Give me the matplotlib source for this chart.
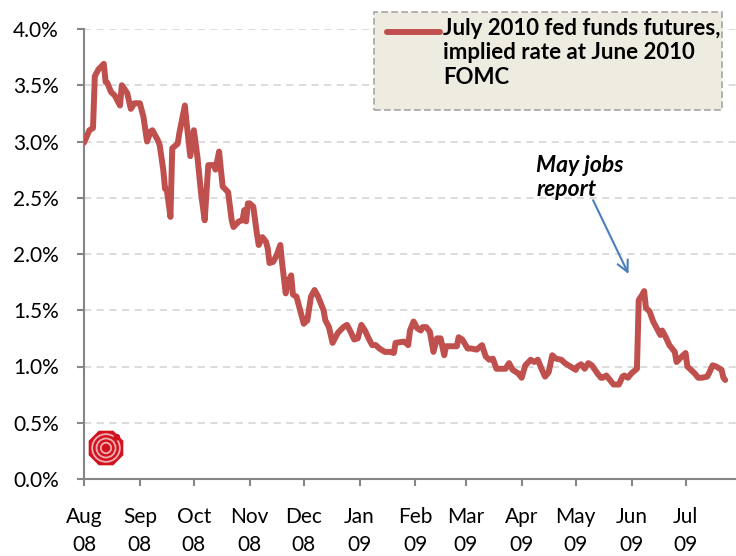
import matplotlib
matplotlib.use('Agg')
import matplotlib.pyplot as plt
import matplotlib.dates as mdates
import matplotlib.ticker as ticker
from matplotlib.patches import FancyBboxPatch, RegularPolygon, Circle
from matplotlib.lines import Line2D
import pandas as pd

# July 2010 fed funds futures, implied rate at June 2010 FOMC
dates = [
    '2008-08-01', '2008-08-04', '2008-08-06', '2008-08-07', '2008-08-09', '2008-08-12',
    '2008-08-13', '2008-08-14', '2008-08-16', '2008-08-18', '2008-08-21', '2008-08-22',
    '2008-08-25', '2008-08-27', '2008-08-29', '2008-09-01', '2008-09-03', '2008-09-05',
    '2008-09-07', '2008-09-08', '2008-09-11', '2008-09-12', '2008-09-14', '2008-09-15',
    '2008-09-16', '2008-09-18', '2008-09-19', '2008-09-22', '2008-09-23', '2008-09-26',
    '2008-09-27', '2008-09-29', '2008-10-01', '2008-10-03', '2008-10-05', '2008-10-07',
    '2008-10-09', '2008-10-12', '2008-10-13', '2008-10-15', '2008-10-16', '2008-10-17',
    '2008-10-20', '2008-10-22', '2008-10-23', '2008-10-26', '2008-10-28', '2008-10-29',
    '2008-10-30', '2008-10-31', '2008-11-01', '2008-11-03', '2008-11-05', '2008-11-06',
    '2008-11-08', '2008-11-10', '2008-11-11', '2008-11-12', '2008-11-14', '2008-11-16',
    '2008-11-18', '2008-11-19', '2008-11-21', '2008-11-22', '2008-11-24', '2008-11-25',
    '2008-11-27', '2008-11-29', '2008-12-01', '2008-12-03', '2008-12-05', '2008-12-07',
    '2008-12-09', '2008-12-12', '2008-12-13', '2008-12-15', '2008-12-17', '2008-12-18',
    '2008-12-20', '2008-12-23', '2008-12-25', '2008-12-27', '2008-12-29', '2008-12-31',
    '2009-01-02', '2009-01-04', '2009-01-06', '2009-01-08', '2009-01-10', '2009-01-12',
    '2009-01-15', '2009-01-18', '2009-01-20', '2009-01-21', '2009-01-25', '2009-01-26',
    '2009-01-28', '2009-01-29', '2009-01-31', '2009-02-02', '2009-02-04', '2009-02-05',
    '2009-02-07', '2009-02-09', '2009-02-11', '2009-02-13', '2009-02-15', '2009-02-17',
    '2009-02-18', '2009-02-21', '2009-02-24', '2009-02-25', '2009-02-27', '2009-03-02',
    '2009-03-04', '2009-03-07', '2009-03-10', '2009-03-12', '2009-03-14', '2009-03-16',
    '2009-03-18', '2009-03-21', '2009-03-23', '2009-03-25', '2009-03-27', '2009-03-30',
    '2009-04-01', '2009-04-03', '2009-04-06', '2009-04-08', '2009-04-10', '2009-04-12',
    '2009-04-14', '2009-04-16', '2009-04-18', '2009-04-20', '2009-04-23', '2009-04-25',
    '2009-04-28', '2009-05-01', '2009-05-02', '2009-05-04', '2009-05-06', '2009-05-08',
    '2009-05-10', '2009-05-13', '2009-05-15', '2009-05-16', '2009-05-18', '2009-05-20',
    '2009-05-22', '2009-05-25', '2009-05-27', '2009-05-28', '2009-05-30', '2009-06-01',
    '2009-06-04', '2009-06-05', '2009-06-07', '2009-06-08', '2009-06-09', '2009-06-11',
    '2009-06-13', '2009-06-15', '2009-06-17', '2009-06-18', '2009-06-20', '2009-06-22',
    '2009-06-25', '2009-06-26', '2009-06-29', '2009-07-01', '2009-07-02', '2009-07-04',
    '2009-07-06', '2009-07-08', '2009-07-10', '2009-07-13', '2009-07-14', '2009-07-16',
    '2009-07-18', '2009-07-21', '2009-07-22', '2009-07-23',
]
rates = [
    2.99, 3.10, 3.12, 3.58, 3.64, 3.69,
    3.53, 3.52, 3.44, 3.41, 3.32, 3.50,
    3.43, 3.29, 3.34, 3.34, 3.22, 3.00,
    3.09, 3.10, 3.01, 2.97, 2.75, 2.58,
    2.57, 2.33, 2.94, 2.98, 3.08, 3.32,
    3.16, 2.87, 3.10, 2.86, 2.54, 2.30,
    2.79, 2.79, 2.75, 2.91, 2.75, 2.60,
    2.55, 2.30, 2.24, 2.29, 2.30, 2.39,
    2.29, 2.45, 2.45, 2.42, 2.18, 2.08,
    2.15, 2.11, 2.05, 1.92, 1.93, 1.99,
    2.08, 1.92, 1.65, 1.74, 1.81, 1.64,
    1.62, 1.50, 1.38, 1.41, 1.62, 1.68,
    1.62, 1.50, 1.41, 1.35, 1.21, 1.24,
    1.30, 1.35, 1.37, 1.31, 1.24, 1.25,
    1.37, 1.32, 1.25, 1.19, 1.19, 1.16,
    1.13, 1.13, 1.12, 1.21, 1.22, 1.22,
    1.19, 1.32, 1.40, 1.34, 1.32, 1.35,
    1.35, 1.31, 1.13, 1.25, 1.25, 1.10,
    1.18, 1.18, 1.18, 1.26, 1.24, 1.16,
    1.16, 1.15, 1.19, 1.09, 1.06, 1.07,
    0.98, 0.98, 0.98, 1.03, 0.97, 0.94,
    0.90, 1.01, 1.06, 1.04, 1.06, 0.98,
    0.91, 0.95, 1.10, 1.07, 1.06, 1.03,
    1.00, 0.97, 1.00, 1.02, 0.98, 1.03,
    1.01, 0.94, 0.90, 0.90, 0.92, 0.88,
    0.84, 0.84, 0.91, 0.92, 0.90, 0.94,
    0.98, 1.59, 1.64, 1.67, 1.52, 1.49,
    1.40, 1.34, 1.28, 1.32, 1.26, 1.19,
    1.13, 1.04, 1.09, 1.12, 1.00, 0.97,
    0.94, 0.90, 0.90, 0.91, 0.94, 1.01,
    1.00, 0.97, 0.90, 0.88,
]

legend_label = 'July 2010 fed funds futures,\nimplied rate at June 2010\nFOMC'
note_label = 'May jobs\nreport'

x = pd.to_datetime(dates)

plt.rcParams['font.family'] = ['Lato', 'DejaVu Sans']

fig = plt.figure(figsize=(7.36, 5.56), dpi=100)
ax = fig.add_axes([84 / 736, 1 - 479 / 556, 1 - 84 / 736, 450 / 556])

ax.plot(x, rates, color='#c0504d', lw=4.3, solid_joinstyle='round', solid_capstyle='round', zorder=3)

ax.set_ylim(0, 4)
ax.set_xlim(pd.Timestamp('2008-08-01'), pd.Timestamp('2009-07-29'))
ax.yaxis.set_major_locator(ticker.MultipleLocator(0.5))
ax.yaxis.set_major_formatter(ticker.PercentFormatter(xmax=100, decimals=1))
ax.xaxis.set_major_locator(mdates.MonthLocator())
ax.xaxis.set_major_formatter(mdates.DateFormatter('%b\n%y'))

ax.grid(axis='y', color='#d9d9d9', linestyle=(0, (4, 3)), lw=1.3)
ax.set_axisbelow(True)
for s in ['top', 'right']:
    ax.spines[s].set_visible(False)
for s in ['left', 'bottom']:
    ax.spines[s].set_color('#868686')
    ax.spines[s].set_linewidth(1.5)

ax.tick_params(axis='y', length=5, width=1.5, color='#868686', pad=13, labelsize=15)
ax.tick_params(axis='x', length=5, width=1.5, color='#868686', pad=15, labelsize=15)
for lab in ax.get_xticklabels():
    lab.set_linespacing(1.5)

# legend box
box = FancyBboxPatch((374 / 736, 1 - 110 / 556), (722 - 374) / 736, 98 / 556,
                     boxstyle='square,pad=0', transform=fig.transFigure,
                     facecolor='#eeece1', edgecolor='#a6a6a6', lw=1.2,
                     linestyle=(0, (4, 2)), zorder=5)
fig.patches.append(box)
fig.lines.append(Line2D([387 / 736, 440 / 736], [1 - 32 / 556, 1 - 32 / 556],
                        transform=fig.transFigure, color='#c0504d', lw=4.3,
                        solid_capstyle='round', zorder=6))
fig.text(443 / 736, 1 - 18 / 556, legend_label, ha='left', va='top',
         fontsize=16, fontweight='bold', linespacing=1.2, zorder=7)

# annotation
ax.text(pd.Timestamp('2009-04-09'), 2.88, note_label, ha='left', va='top',
        fontsize=16.5, fontweight='bold', style='italic', linespacing=1.2)
ax.annotate('', xy=(pd.Timestamp('2009-05-31'), 1.80), xytext=(pd.Timestamp('2009-05-10'), 2.50),
            arrowprops=dict(arrowstyle='->,head_length=0.8,head_width=0.4', color='#4a7ebb', lw=1.5))

# logo
lax = fig.add_axes([88 / 736, 1 - 466 / 556, 36 / 736, 36 / 556])
lax.set_xlim(-1, 1)
lax.set_ylim(-1, 1)
lax.set_aspect('equal')
lax.axis('off')
lax.add_patch(RegularPolygon((0, 0), 8, radius=1.0, orientation=0.3927, color='#d0141f'))
for r, c in [(0.78, '#f3b0b4'), (0.68, '#d0141f'), (0.54, '#f3b0b4'), (0.44, '#d0141f'),
             (0.3, '#f3b0b4'), (0.2, '#d0141f')]:
    lax.add_patch(Circle((0, 0), r, color=c))
lax.add_patch(Circle((0.6, 0.6), 0.15, color='#d0141f'))

fig.savefig('out.png', dpi=100)
